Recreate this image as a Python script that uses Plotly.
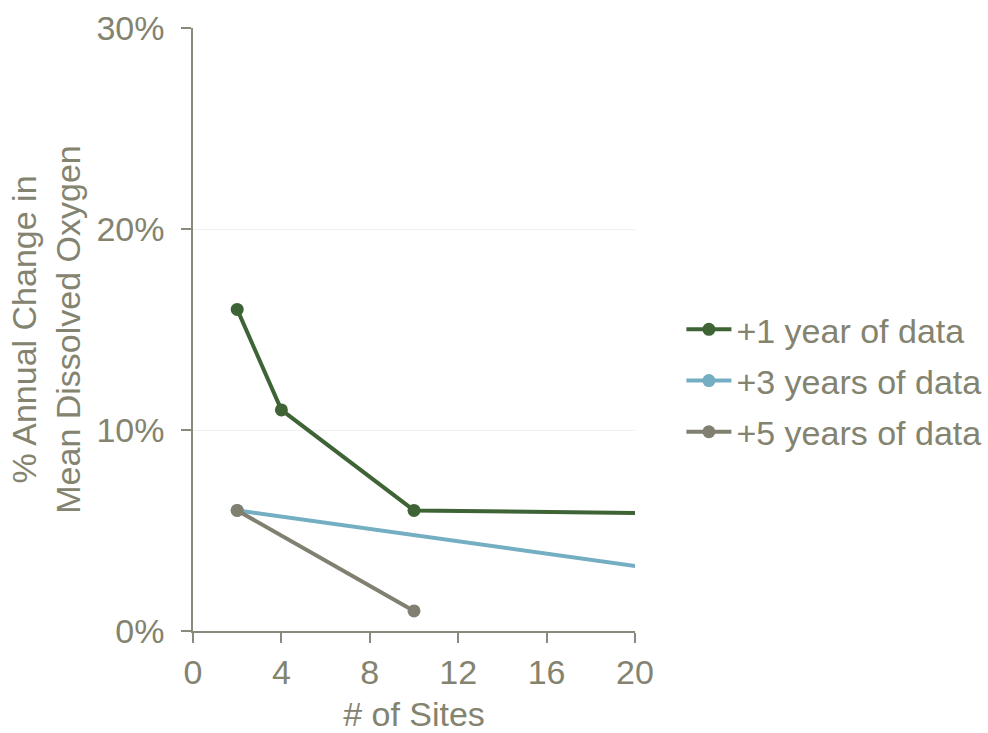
import plotly.graph_objects as go

# Number of monitoring sites vs. detectable annual change in mean dissolved oxygen
series_names = ["+1 year of data", "+3 years of data", "+5 years of data"]
sites_1yr = [2, 4, 10, 30]
change_1yr = [16, 11, 6, 5.75]
sites_3yr = [2, 30]
change_3yr = [6, 1.7]
sites_5yr = [2, 10]
change_5yr = [6, 1]

x_ticks = [0, 4, 8, 12, 16, 20]
y_ticks = [0, 10, 20, 30]
y_tick_labels = ["0%", "10%", "20%", "30%"]

colors = ["#3E6335", "#74AEC3", "#807F70"]
text_color = "#83836F"
axis_color = "#8A8A7C"
font_family = "Liberation Sans, Arial, sans-serif"
fs = 34

fig = go.Figure()
for i, (name, xs, ys, c) in enumerate(zip(
    series_names,
    [sites_1yr, sites_3yr, sites_5yr],
    [change_1yr, change_3yr, change_5yr],
    colors,
)):
    fig.add_trace(
        go.Scatter(
            x=xs,
            y=ys,
            name=name,
            legendgroup=f"g{i}",
            mode="lines+markers",
            line=dict(color=c, width=4),
            marker=dict(color=c, size=13),
        )
    )

fig.update_layout(
    width=988,
    height=733,
    margin=dict(l=193, r=353, t=28, b=102, autoexpand=False),
    paper_bgcolor="white",
    plot_bgcolor="white",
    font=dict(family=font_family, size=fs, color=text_color),
    showlegend=True,
    legend=dict(
        x=1.105,
        xanchor="left",
        y=0.415,
        yanchor="middle",
        font=dict(size=fs, color=text_color),
        itemwidth=45,
        tracegroupgap=4,
        bgcolor="rgba(0,0,0,0)",
    ),
    xaxis=dict(
        range=[0, 20],
        tickvals=x_ticks,
        ticks="outside",
        ticklen=10,
        tickcolor=axis_color,
        tickwidth=1.5,
        showline=True,
        linecolor=axis_color,
        linewidth=1.5,
        showgrid=False,
        zeroline=False,
        automargin=False,
        tickfont=dict(size=fs, color=text_color),
        title=dict(text="# of Sites", font=dict(size=fs, color=text_color), standoff=20),
    ),
    yaxis=dict(
        range=[0, 30],
        tickvals=y_ticks,
        ticktext=y_tick_labels,
        ticks="outside",
        ticklen=10,
        tickcolor=axis_color,
        tickwidth=1.5,
        showline=True,
        linecolor=axis_color,
        linewidth=1.5,
        showgrid=True,
        gridcolor="#F0F0F0",
        gridwidth=1,
        zeroline=False,
        automargin=False,
        tickfont=dict(size=fs, color=text_color),
        ticklabelstandoff=10,
        title=dict(
            text="% Annual Change in<br>Mean Dissolved Oxygen",
            font=dict(size=fs, color=text_color),
            standoff=5,
        ),
    ),
)

fig.write_html("out.html")
